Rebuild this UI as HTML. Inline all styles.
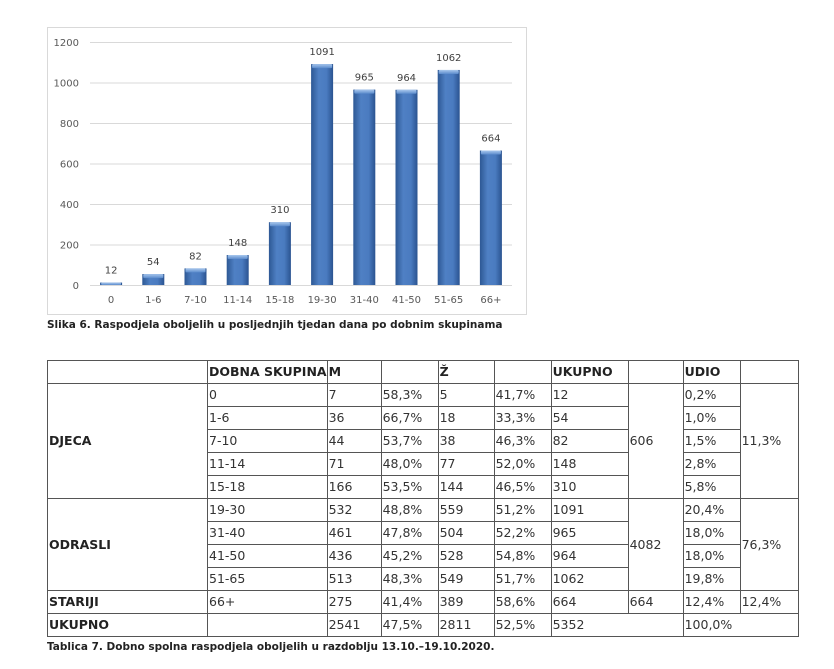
<!DOCTYPE html>
<html><head><meta charset="utf-8">
<style>
body{margin:0;background:#fff;width:834px;height:669px;position:relative;overflow:hidden;font-family:"DejaVu Sans","Liberation Sans",sans-serif;}
#chart{position:absolute;left:0;top:0}
.cap{position:absolute;font-family:"DejaVu Sans",sans-serif;font-weight:bold;font-size:10.5px;color:#222;white-space:nowrap}
table{position:absolute;left:47px;top:360px;border-collapse:collapse;table-layout:fixed;font-size:12.5px;color:#333}
td{border:1px solid #555;height:22px;padding:0 0 0 1px;white-space:nowrap;overflow:hidden;line-height:22px}
td.b{font-weight:bold;color:#222}
</style></head><body>
<svg id="chart" width="834" height="340">
<defs>
<linearGradient id="bg" x1="0" x2="1" y1="0" y2="0">
<stop offset="0" stop-color="#2d5894"/><stop offset="0.35" stop-color="#4f80c4"/><stop offset="0.7" stop-color="#4a7bc0"/><stop offset="1" stop-color="#2a5390"/>
</linearGradient>
<linearGradient id="cap" x1="0" x2="0" y1="0" y2="1">
<stop offset="0" stop-color="#a9c8ee"/><stop offset="1" stop-color="#5b8bcc"/>
</linearGradient>
</defs>
<rect x="47.5" y="27.5" width="479" height="287" fill="#fff" stroke="#d9d9d9"/>
<g id="grid"></g><g id="bars"></g><g id="labels"></g>
</svg>
<div class="cap" style="left:47px;top:319px">Slika 6. Raspodjela oboljelih u posljednjih tjedan dana po dobnim skupinama</div>

<table>
<colgroup><col style="width:160px"><col style="width:119px"><col style="width:54px"><col style="width:57px"><col style="width:56px"><col style="width:57px"><col style="width:77px"><col style="width:55px"><col style="width:57px"><col style="width:58px"></colgroup>
<tr><td></td><td class="b">DOBNA SKUPINA</td><td class="b">M</td><td></td><td class="b">Ž</td><td></td><td class="b">UKUPNO</td><td></td><td class="b">UDIO</td><td></td></tr>
<tr><td rowspan="5" class="b">DJECA</td><td>0</td><td>7</td><td>58,3%</td><td>5</td><td>41,7%</td><td>12</td><td rowspan="5">606</td><td>0,2%</td><td rowspan="5">11,3%</td></tr>
<tr><td>1-6</td><td>36</td><td>66,7%</td><td>18</td><td>33,3%</td><td>54</td><td>1,0%</td></tr>
<tr><td>7-10</td><td>44</td><td>53,7%</td><td>38</td><td>46,3%</td><td>82</td><td>1,5%</td></tr>
<tr><td>11-14</td><td>71</td><td>48,0%</td><td>77</td><td>52,0%</td><td>148</td><td>2,8%</td></tr>
<tr><td>15-18</td><td>166</td><td>53,5%</td><td>144</td><td>46,5%</td><td>310</td><td>5,8%</td></tr>
<tr><td rowspan="4" class="b">ODRASLI</td><td>19-30</td><td>532</td><td>48,8%</td><td>559</td><td>51,2%</td><td>1091</td><td rowspan="4">4082</td><td>20,4%</td><td rowspan="4">76,3%</td></tr>
<tr><td>31-40</td><td>461</td><td>47,8%</td><td>504</td><td>52,2%</td><td>965</td><td>18,0%</td></tr>
<tr><td>41-50</td><td>436</td><td>45,2%</td><td>528</td><td>54,8%</td><td>964</td><td>18,0%</td></tr>
<tr><td>51-65</td><td>513</td><td>48,3%</td><td>549</td><td>51,7%</td><td>1062</td><td>19,8%</td></tr>
<tr><td class="b">STARIJI</td><td>66+</td><td>275</td><td>41,4%</td><td>389</td><td>58,6%</td><td>664</td><td>664</td><td>12,4%</td><td>12,4%</td></tr>
<tr><td class="b">UKUPNO</td><td></td><td>2541</td><td>47,5%</td><td>2811</td><td>52,5%</td><td colspan="2">5352</td><td colspan="2">100,0%</td></tr>
</table>
<div class="cap" style="left:47px;top:641px">Tablica 7. Dobno spolna raspodjela oboljelih u razdoblju 13.10.–19.10.2020.</div>

<script>
const categories=["0","1-6","7-10","11-14","15-18","19-30","31-40","41-50","51-65","66+"];
const values=[12,54,82,148,310,1091,965,964,1062,664];
const yTicks=[0,200,400,600,800,1000,1200];
const NS="http://www.w3.org/2000/svg";
const L=90,R=512,T=42,B=285,YMAX=1200;
const y=v=>B-(v/YMAX)*(B-T);
const band=(R-L)/categories.length;
const x=i=>L+band*i+band/2;
const bw=22;
function mk(tag,attrs,parent){const e=document.createElementNS(NS,tag);for(const k in attrs)e.setAttribute(k,attrs[k]);parent.appendChild(e);return e;}
const grid=document.getElementById('grid'),bars=document.getElementById('bars'),labels=document.getElementById('labels');
yTicks.forEach(t=>{
  const ln=mk('line',{x1:L,x2:R,y1:y(t)+0.5,y2:y(t)+0.5,stroke:'#d9d9d9'},grid);
  
  
  const tx=mk('text',{x:79,y:y(t)+4,'text-anchor':'end','font-size':'10','fill':'#595959','font-family':'DejaVu Sans, sans-serif'},labels);
  tx.textContent=t;
  
  
});
categories.forEach((c,i)=>{
  const v=values[i],x0=x(i)-bw/2,yt=y(v);
  const g=mk('g',{},bars);
  
  
  mk('rect',{x:x0,y:yt,width:bw,height:B-yt,fill:'url(#bg)'},g);
  mk('rect',{x:x0+1,y:yt,width:bw-2,height:Math.min(4,B-yt),fill:'url(#cap)',rx:1},g);
  const vl=mk('text',{x:x(i),y:yt-9,'text-anchor':'middle','font-size':'10','fill':'#404040','font-family':'DejaVu Sans, sans-serif'},labels);
  vl.textContent=v;
  
  
  const xl=mk('text',{x:x(i),y:303,'text-anchor':'middle','font-size':'10','fill':'#595959','font-family':'DejaVu Sans, sans-serif'},labels);
  xl.textContent=c;
  
  
});
</script>
</body></html>
